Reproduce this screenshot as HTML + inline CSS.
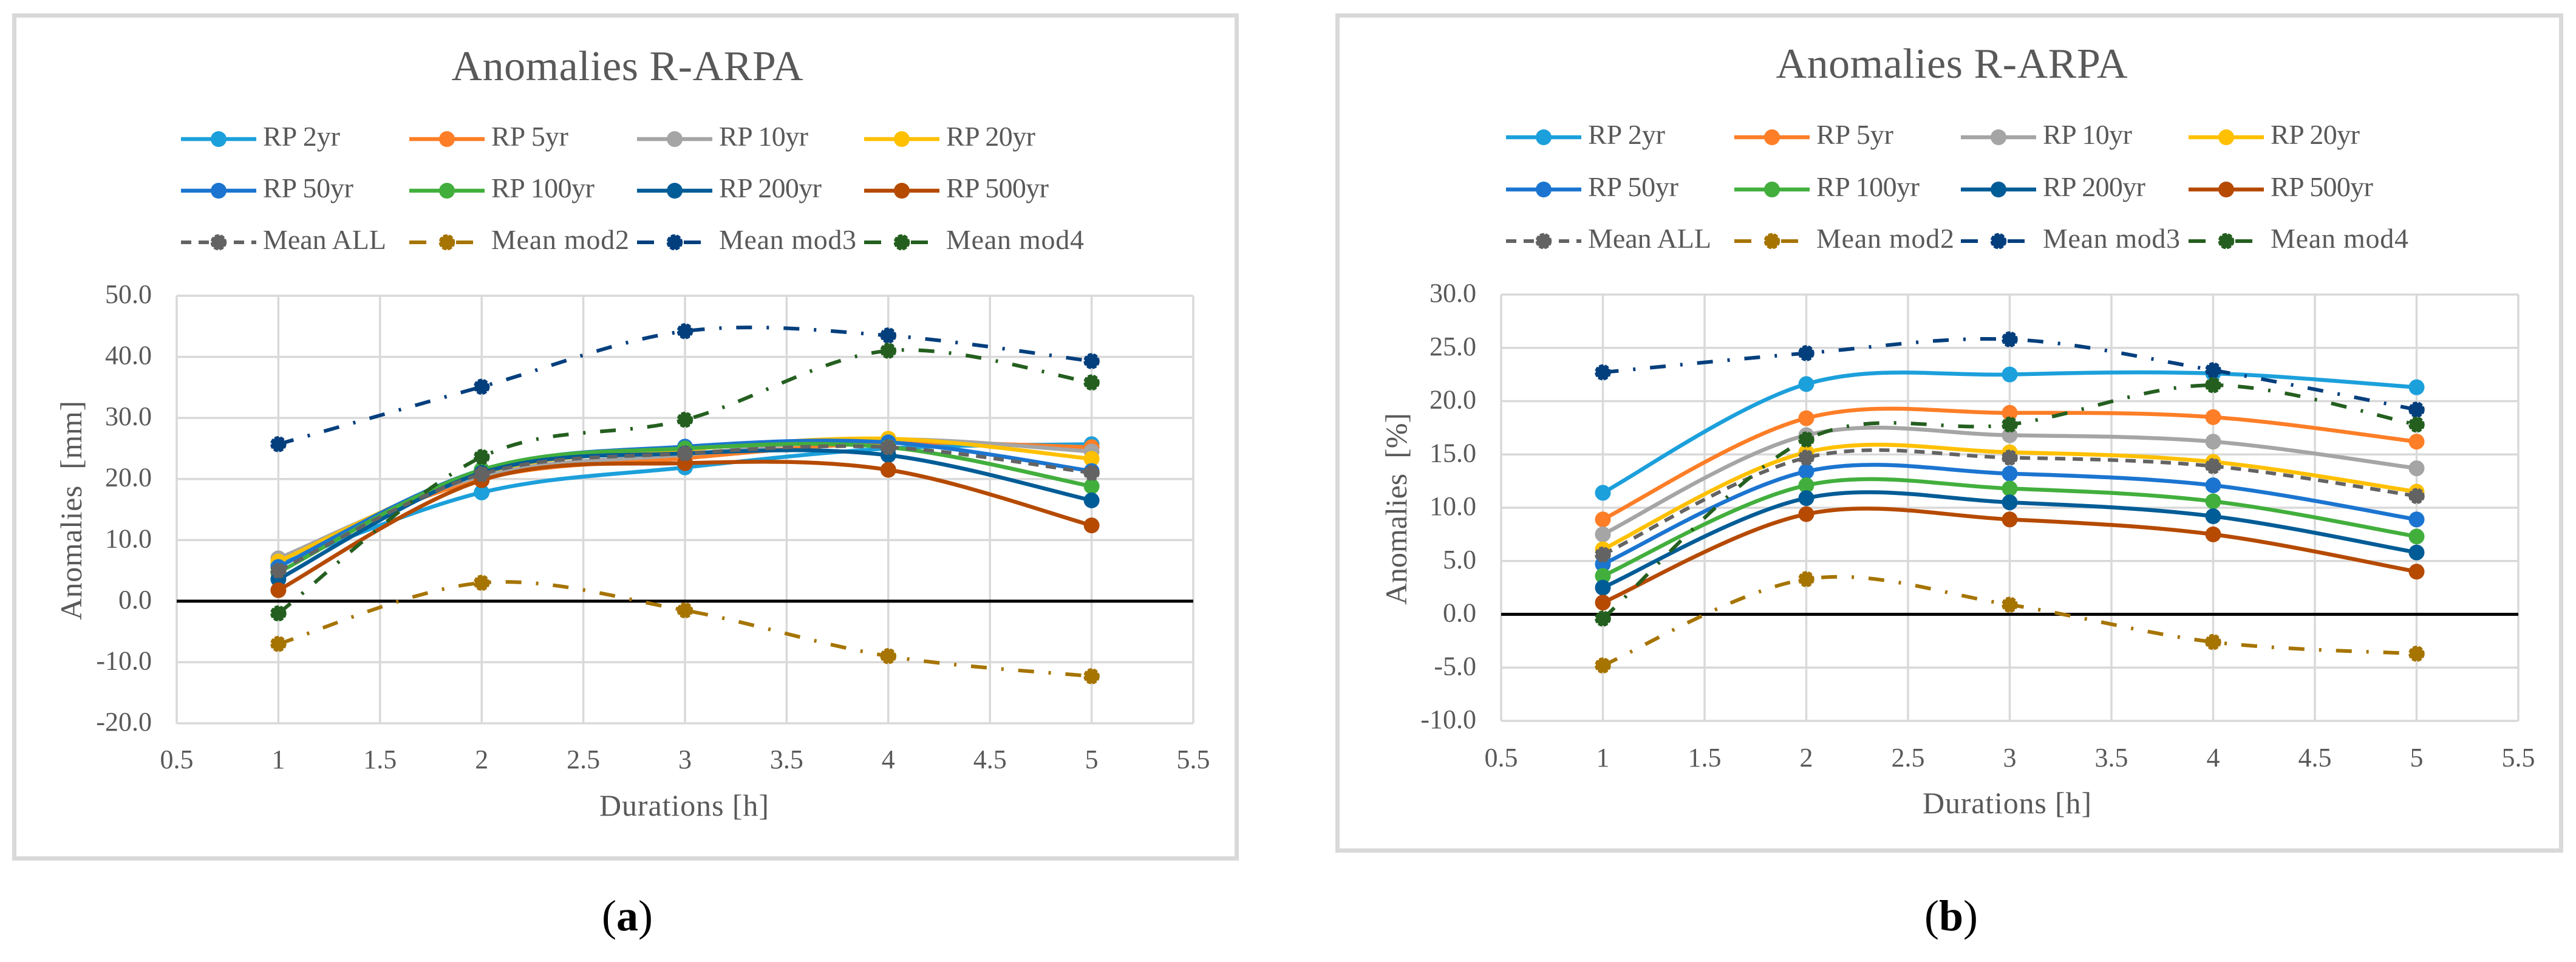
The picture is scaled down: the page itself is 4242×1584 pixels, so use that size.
<!DOCTYPE html>
<html lang="en">
<head>
<meta charset="utf-8">
<title>Anomalies R-ARPA</title>
<style>
html,body{margin:0;padding:0;background:#fff;}
svg{display:block;}
text{font-family:"Liberation Serif",serif;fill:#595959;}
</style>
</head>
<body>
<svg id="figure" xmlns="http://www.w3.org/2000/svg" width="4242" height="1584" viewBox="0 0 4242 1584">
  <rect x="0" y="0" width="4242" height="1584" fill="#fff"/>

  <g id="chart-a">
    <rect x="23.5" y="25.5" width="2013" height="1388" fill="#fff" stroke="#d9d9d9" stroke-width="7"/>
    <text x="1033" y="132" font-size="70" text-anchor="middle" textLength="579">Anomalies R-ARPA</text>
    <g id="chart-a-plot"></g>
    <text x="987" y="1343" font-size="50" textLength="279">Durations [h]</text>
    <text transform="translate(134,1021) rotate(-90)" font-size="50" textLength="361" xml:space="preserve">Anomalies  [mm]</text>
    <text x="1033" y="1532" font-size="72" text-anchor="middle" style="fill:#000">(<tspan font-weight="bold">a</tspan>)</text>
  </g>

  <g id="chart-b">
    <rect x="2202.5" y="25.5" width="2015" height="1375" fill="#fff" stroke="#d9d9d9" stroke-width="7"/>
    <text x="3214" y="128" font-size="70" text-anchor="middle" textLength="579">Anomalies R-ARPA</text>
    <g id="chart-b-plot"></g>
    <text x="3166" y="1339" font-size="50" textLength="278">Durations [h]</text>
    <text transform="translate(2316,996) rotate(-90)" font-size="50" textLength="316" xml:space="preserve">Anomalies  [%]</text>
    <text x="3213" y="1532" font-size="72" text-anchor="middle" style="fill:#000">(<tspan font-weight="bold">b</tspan>)</text>
  </g>
</svg>

<script>
// ---------- shared data ----------
const durations = [1, 2, 3, 4, 5];
const xTickValues = [0.5, 1, 1.5, 2, 2.5, 3, 3.5, 4, 4.5, 5, 5.5];
const seriesNames = ['RP 2yr', 'RP 5yr', 'RP 10yr', 'RP 20yr', 'RP 50yr', 'RP 100yr', 'RP 200yr', 'RP 500yr', 'Mean ALL', 'Mean mod2', 'Mean mod3', 'Mean mod4'];

// ---------- chart (a): anomalies in mm ----------
const yTicksA = [50, 40, 30, 20, 10, 0, -10, -20];
const rp2yrA = [6.0, 17.8, 21.9, 25.0, 25.7];
const rp5yrA = [7.0, 20.0, 23.4, 25.9, 25.2];
const rp10yrA = [7.0, 20.5, 24.0, 26.5, 24.5];
const rp20yrA = [6.5, 21.0, 24.8, 26.6, 23.3];
const rp50yrA = [5.6, 21.5, 25.3, 26.0, 21.3];
const rp100yrA = [4.7, 21.5, 25.0, 25.2, 18.8];
const rp200yrA = [3.6, 21.0, 24.2, 23.9, 16.5];
const rp500yrA = [1.8, 19.8, 22.6, 21.5, 12.4];
const meanAllA = [5.0, 20.8, 24.2, 25.2, 21.0];
const meanMod2A = [-7.0, 3.0, -1.5, -9.0, -12.3];
const meanMod3A = [25.7, 35.1, 44.2, 43.5, 39.3];
const meanMod4A = [-2.0, 23.6, 29.7, 41.0, 35.8];

// ---------- chart (b): anomalies in % ----------
const yTicksB = [30, 25, 20, 15, 10, 5, 0, -5, -10];
const rp2yrB = [11.4, 21.6, 22.5, 22.6, 21.3];
const rp5yrB = [8.9, 18.4, 18.9, 18.5, 16.2];
const rp10yrB = [7.5, 16.8, 16.8, 16.2, 13.7];
const rp20yrB = [6.1, 15.2, 15.2, 14.3, 11.5];
const rp50yrB = [4.7, 13.4, 13.2, 12.1, 8.9];
const rp100yrB = [3.6, 12.1, 11.8, 10.6, 7.3];
const rp200yrB = [2.5, 10.9, 10.5, 9.2, 5.8];
const rp500yrB = [1.1, 9.4, 8.9, 7.5, 4.0];
const meanAllB = [5.6, 14.7, 14.7, 13.9, 11.1];
const meanMod2B = [-4.8, 3.3, 0.9, -2.6, -3.7];
const meanMod3B = [22.7, 24.5, 25.8, 22.9, 19.2];
const meanMod4B = [-0.4, 16.4, 17.8, 21.5, 17.8];

const seriesA = [rp2yrA, rp5yrA, rp10yrA, rp20yrA, rp50yrA, rp100yrA, rp200yrA, rp500yrA, meanAllA, meanMod2A, meanMod3A, meanMod4A];
const seriesB = [rp2yrB, rp5yrB, rp10yrB, rp20yrB, rp50yrB, rp100yrB, rp200yrB, rp500yrB, meanAllB, meanMod2B, meanMod3B, meanMod4B];

// ---------- styling ----------
const seriesColors = ['#1ca0db', '#fd7e27', '#a5a5a5', '#ffc000', '#1b75d0', '#42af3d', '#005c96', '#b54a00', '#636363', '#a67400', '#033f7d', '#245f1f'];
const seriesKinds = ['solid', 'solid', 'solid', 'solid', 'solid', 'solid', 'solid', 'solid', 'dash', 'dashdot', 'dashdot', 'dashdot'];
const legendLabelLengths = [127, 127, 147, 147, 149, 170, 169, 169, 203, 227, 226, 227];

const NS = 'http://www.w3.org/2000/svg';

function make(tag, attrs, parent) {
  const node = document.createElementNS(NS, tag);
  for (const key in attrs) node.setAttribute(key, attrs[key]);
  parent.appendChild(node);
  return node;
}

function slug(text) {
  return text.toLowerCase().replace(/\s+/g, '-');
}

function smoothPath(points) {
  let d = 'M' + points[0][0] + ' ' + points[0][1];
  for (let i = 0; i < points.length - 1; i++) {
    const p0 = points[Math.max(i - 1, 0)];
    const p1 = points[i];
    const p2 = points[i + 1];
    const p3 = points[Math.min(i + 2, points.length - 1)];
    const c1x = p1[0] + (p2[0] - p0[0]) / 6;
    const c1y = p1[1] + (p2[1] - p0[1]) / 6;
    const c2x = p2[0] - (p3[0] - p1[0]) / 6;
    const c2y = p2[1] - (p3[1] - p1[1]) / 6;
    d += ' C' + c1x + ' ' + c1y + ' ' + c2x + ' ' + c2y + ' ' + p2[0] + ' ' + p2[1];
  }
  return d;
}

function styleMarker(dot, kind) {
  if (kind !== 'solid') {
    dot.setAttribute('r', 11.5);
    dot.setAttribute('stroke', dot.getAttribute('fill'));
    dot.setAttribute('stroke-width', 3.5);
    dot.setAttribute('stroke-dasharray', '7 2.5');
  }
}

function drawChart(opts) {
  const root = document.getElementById(opts.id + '-plot');
  const xScale = function (v) { return opts.left + (v - 0.5) / 5 * (opts.right - opts.left); };
  const yMax = opts.yTicks[0];
  const yMin = opts.yTicks[opts.yTicks.length - 1];
  const yScale = function (v) { return opts.top + (yMax - v) / (yMax - yMin) * (opts.bottom - opts.top); };

  // vertical gridlines and x tick labels
  xTickValues.forEach(function (tick) {
    const grid = make('line', { x1: xScale(tick), x2: xScale(tick), y1: opts.top, y2: opts.bottom, stroke: '#d9d9d9', 'stroke-width': 3.5 }, root);
    
    
    const label = make('text', { x: xScale(tick), y: opts.xLabelY, 'font-size': 44, 'text-anchor': 'middle' }, root);
    label.textContent = String(tick);
    
    
  });

  // horizontal gridlines and y tick labels
  opts.yTicks.forEach(function (tick) {
    const grid = make('line', { x1: opts.left, x2: opts.right, y1: yScale(tick), y2: yScale(tick), stroke: '#d9d9d9', 'stroke-width': 3.5 }, root);
    
    
    const label = make('text', { x: opts.left - 41, y: yScale(tick) + 12, 'font-size': 44, 'text-anchor': 'end' }, root);
    label.textContent = tick.toFixed(1);
    
    
  });

  // zero axis
  const zero = make('line', { x1: opts.left, x2: opts.right, y1: yScale(0), y2: yScale(0), stroke: '#000', 'stroke-width': 5 }, root);
  
  

  // series
  opts.series.forEach(function (values, s) {
    const points = values.map(function (v, i) { return [xScale(durations[i]), yScale(v)]; });
    const kind = seriesKinds[s];
    const group = make('g', {}, root);
    
    
    const line = make('path', { d: smoothPath(points), fill: 'none', stroke: seriesColors[s], 'stroke-width': kind === 'solid' ? 6.5 : 6, 'stroke-linejoin': 'round' }, group);
    if (kind === 'dash') line.setAttribute('stroke-dasharray', '17 12');
    if (kind === 'dashdot') line.setAttribute('stroke-dasharray', '26 24 4 24');
    
    
    points.forEach(function (p) {
      const dot = make('circle', { cx: p[0], cy: p[1], r: 13, fill: seriesColors[s] }, group);
      styleMarker(dot, kind);
      
      
    });
  });

  // legend
  seriesNames.forEach(function (name, s) {
    const col = s % 4;
    const row = Math.floor(s / 4);
    const lx = opts.legendX[col];
    const ly = opts.legendY[row];
    const kind = seriesKinds[s];
    const entry = make('g', {}, root);
    
    
    const swatch = make('line', { x1: lx, x2: lx + 124, y1: ly, y2: ly, stroke: seriesColors[s], 'stroke-width': kind === 'solid' ? 6.5 : 6 }, entry);
    if (kind === 'dash') swatch.setAttribute('stroke-dasharray', '17 12');
    if (kind === 'dashdot') swatch.setAttribute('stroke-dasharray', '28 49 28 200');
    
    
    const mark = make('circle', { cx: lx + 62, cy: ly, r: 13, fill: seriesColors[s] }, entry);
    styleMarker(mark, kind);
    
    
    const label = make('text', { x: lx + 135, y: ly + 11, 'font-size': 46, textLength: legendLabelLengths[s] }, entry);
    label.textContent = name;
    
    
  });
}

drawChart({
  id: 'chart-a', series: seriesA, yTicks: yTicksA,
  left: 291, right: 1965, top: 487, bottom: 1191, xLabelY: 1265,
  legendX: [298, 674, 1049, 1423], legendY: [229, 314, 399]
});
drawChart({
  id: 'chart-b', series: seriesB, yTicks: yTicksB,
  left: 2472, right: 4147, top: 485, bottom: 1187, xLabelY: 1262,
  legendX: [2480, 2856, 3229, 3604], legendY: [226, 312, 397]
});
</script>
</body>
</html>
